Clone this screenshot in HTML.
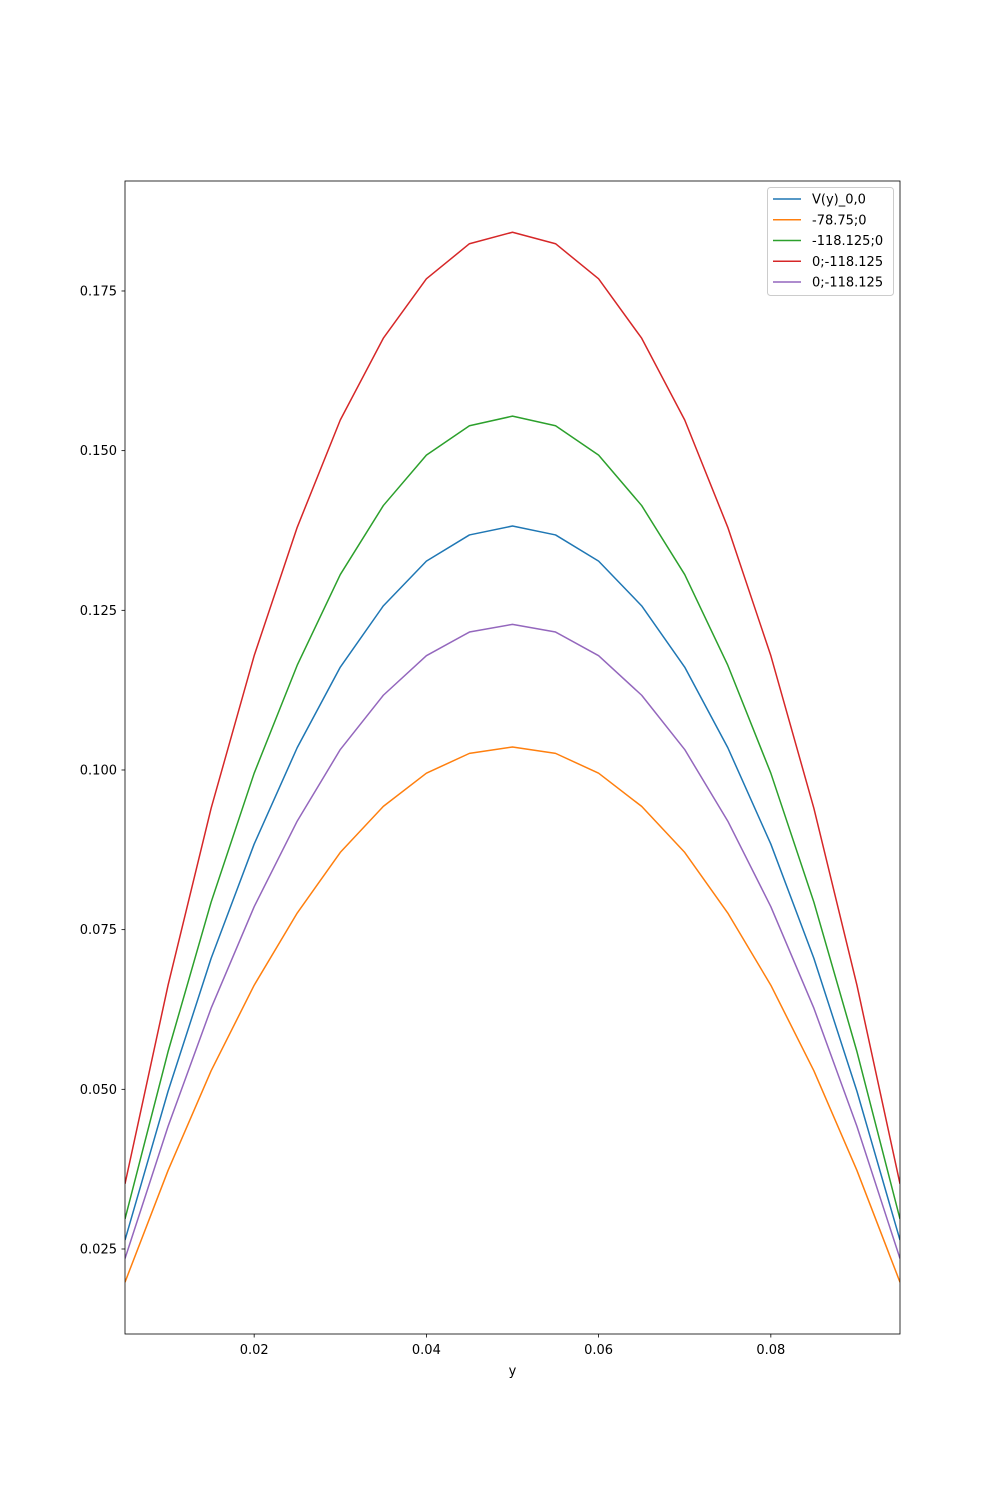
<!DOCTYPE html>
<html><head><meta charset="utf-8"><style>
body{margin:0;background:#fff}
svg{display:block;font-family:"DejaVu Sans","Liberation Sans",sans-serif}
</style></head><body>
<svg id="chart" width="1000" height="1500" viewBox="0 0 1000 1500" xmlns="http://www.w3.org/2000/svg">
<rect width="1000" height="1500" fill="#fff"/>
<g id="plot"></g>
</svg>
<script>
const xValues=[0.005,0.01,0.015,0.02,0.025,0.03,0.035,0.04,0.045,0.05,0.055,0.06,0.065,0.07,0.075,0.08,0.085,0.09,0.095];
const seriesNames=["V(y)_0,0","-78.75;0","-118.125;0","0;-118.125","0;-118.125"];
const seriesColors=["#1f77b4","#ff7f0e","#2ca02c","#d62728","#9467bd"];
const blueValues=[0.0264,0.0497,0.0705,0.0884,0.1035,0.1161,0.1257,0.1327,0.1368,0.1382,0.1368,0.1327,0.1257,0.1161,0.1035,0.0884,0.0705,0.0497,0.0264];
const orangeValues=[0.0198,0.0373,0.0529,0.0663,0.0776,0.0871,0.0943,0.0995,0.1026,0.1036,0.1026,0.0995,0.0943,0.0871,0.0776,0.0663,0.0529,0.0373,0.0198];
const greenValues=[0.0297,0.0559,0.0793,0.0995,0.1164,0.1306,0.1414,0.1493,0.1539,0.1554,0.1539,0.1493,0.1414,0.1306,0.1164,0.0995,0.0793,0.0559,0.0297];
const redValues=[0.0352,0.0663,0.0940,0.1179,0.1380,0.1548,0.1676,0.1769,0.1824,0.1842,0.1824,0.1769,0.1676,0.1548,0.1380,0.1179,0.0940,0.0663,0.0352];
const purpleValues=[0.0235,0.0442,0.0627,0.0786,0.0920,0.1032,0.1117,0.1179,0.1216,0.1228,0.1216,0.1179,0.1117,0.1032,0.0920,0.0786,0.0627,0.0442,0.0235];
const xTicks=[0.02,0.04,0.06,0.08];
const xTickLabels=["0.02","0.04","0.06","0.08"];
const yTicks=[0.025,0.05,0.075,0.1,0.125,0.15,0.175];
const yTickLabels=["0.025","0.050","0.075","0.100","0.125","0.150","0.175"];

const L=125,R=900,T=181,B=1334;
const xMin=0.005,xMax=0.095,yMin=0.01169,yMax=0.19222;
const sx=v=>L+(v-xMin)/(xMax-xMin)*(R-L);
const sy=v=>B-(v-yMin)/(yMax-yMin)*(B-T);
const NS="http://www.w3.org/2000/svg";
const g=document.getElementById('plot');
function mk(tag,attrs,parent){const e=document.createElementNS(NS,tag);for(const k in attrs)e.setAttribute(k,attrs[k]);(parent||g).appendChild(e);return e;}

const clip=mk('clipPath',{id:'clip'});mk('rect',{x:L,y:T,width:R-L,height:B-T},clip);
const all=[blueValues,orangeValues,greenValues,redValues,purpleValues];
all.forEach((vals,i)=>{
  const d=vals.map((v,j)=>(j?'L':'M')+sx(xValues[j]).toFixed(2)+','+sy(v).toFixed(2)).join(' ');
  const p=mk('path',{d:d,fill:'none',stroke:seriesColors[i],'stroke-width':1.5,'clip-path':'url(#clip)','stroke-linejoin':'round'});
  
  
});
const frame=mk('rect',{x:L,y:T,width:R-L,height:B-T,fill:'none',stroke:'#000','stroke-width':0.8});



xTicks.forEach((t,i)=>{
  const x=sx(t);
  const tl=mk('line',{x1:x,x2:x,y1:B,y2:B+3.5,stroke:'#000','stroke-width':0.8});
  
  
  const tx=mk('text',{x:x,y:B+20,'text-anchor':'middle','font-size':13,fill:'#000'});
  tx.textContent=xTickLabels[i];
  
  
});
yTicks.forEach((t,i)=>{
  const y=sy(t);
  const tl=mk('line',{x1:L-3.5,x2:L,y1:y,y2:y,stroke:'#000','stroke-width':0.8});
  
  
  const tx=mk('text',{x:L-8,y:y+4.5,'text-anchor':'end','font-size':13,fill:'#000'});
  tx.textContent=yTickLabels[i];
  
  
});
const xt=mk('text',{x:(L+R)/2,y:1375,'text-anchor':'middle','font-size':13,fill:'#000'});
xt.textContent='y';



const lg=mk('g',{});


mk('rect',{x:767.5,y:187.5,width:126,height:108,rx:3,fill:'#fff',stroke:'#ccc','stroke-width':1},lg);
seriesNames.forEach((n,i)=>{
  const y=199+i*20.75;
  const e=mk('g',{},lg);
  
  
  mk('line',{x1:773,x2:801,y1:y,y2:y,stroke:seriesColors[i],'stroke-width':1.5},e);
  const t=mk('text',{x:812,y:y+4.5,'font-size':13,fill:'#000'},e);
  t.textContent=n;
});
</script>
</body></html>
